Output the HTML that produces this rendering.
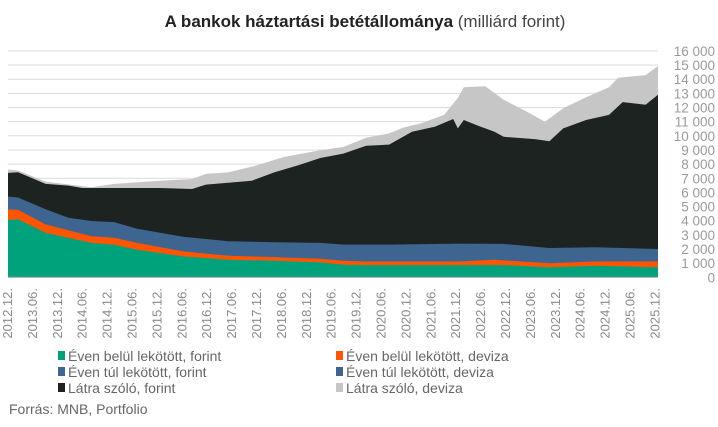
<!DOCTYPE html>
<html><head><meta charset="utf-8"><style>
body{margin:0;background:#fff;width:718px;height:422px;overflow:hidden;font-family:"Liberation Sans",sans-serif}
</style></head><body>
<svg id="s" width="718" height="422" xmlns="http://www.w3.org/2000/svg" font-family="Liberation Sans, sans-serif">
<text x="365" y="27" text-anchor="middle" font-size="17" fill="#222"><tspan font-weight="bold">A bankok háztartási betétállománya</tspan><tspan fill="#444"> (milliárd forint)</tspan></text>
<g id="grid"></g><g id="areas"></g><g id="lab"></g>
<g font-size="14" fill="#666">
<rect x="58" y="351" width="7" height="9" fill="#00a27c"/><text x="68" y="361">Éven belül lekötött, forint</text>
<rect x="336" y="351" width="7" height="9" fill="#ff5500"/><text x="346" y="361">Éven belül lekötött, deviza</text>
<rect x="58" y="367" width="7" height="9" fill="#3e6590"/><text x="68" y="377">Éven túl lekötött, forint</text>
<rect x="336" y="367" width="7" height="9" fill="#3e6590"/><text x="346" y="377">Éven túl lekötött, deviza</text>
<rect x="58" y="383" width="7" height="9" fill="#1c2320"/><text x="68" y="393">Látra szóló, forint</text>
<rect x="336" y="383" width="7" height="9" fill="#c6c6c6"/><text x="346" y="393">Látra szóló, deviza</text>
<text x="9" y="414">Forrás: MNB, Portfolio</text>
</g>
</svg>
<script>
const X0=8,X1=658,Y=v=>277.3-v*0.01415, ns="http://www.w3.org/2000/svg";
const g=document.getElementById('grid'),a=document.getElementById('areas'),l=document.getElementById('lab');
function el(p,t,at,txt){const e=document.createElementNS(ns,t);for(const k in at)e.setAttribute(k,at[k]);if(txt!=null)e.textContent=txt;p.appendChild(e);return e;}
for(let v=1000;v<=16000;v+=1000){el(g,'line',{x1:X0,x2:X1,y1:Y(v),y2:Y(v),stroke:'#dcdcdc','stroke-width':1});}
for(let v=0;v<=16000;v+=1000){el(l,'text',{x:715,y:Y(v)+5,'text-anchor':'end','font-size':13.5,fill:'#9a9a9a'},v==0?'0':(v/1000)+' 000');}
const S=[
[[18,4050],[40,4100],[100,3150],[200,2430],[250,2300],[300,1950],[400,1480],[500,1240],[600,1170],[700,1050],[750,880],[800,860],[1100,860],[1200,710],[1300,810],[1437,710]],
[[18,4800],[40,4760],[100,3740],[200,2900],[250,2790],[300,2430],[400,1830],[500,1520],[600,1430],[700,1310],[750,1170],[800,1120],[1000,1120],[1080,1240],[1200,1000],[1300,1120],[1437,1120]],
[[18,5710],[40,5640],[100,4810],[150,4210],[200,3980],[250,3900],[300,3430],[400,2860],[500,2550],[600,2480],[700,2430],[750,2310],[850,2310],[1000,2380],[1100,2360],[1200,2070],[1300,2120],[1437,2000]],
[[18,7380],[40,7430],[100,6600],[150,6480],[180,6310],[350,6310],[420,6240],[450,6550],[550,6830],[600,7430],[650,7900],[700,8430],[750,8740],[800,9290],[850,9380],[900,10290],[950,10640],[990,11190],[1000,10520],[1013,11120],[1050,10640],[1080,10290],[1100,9930],[1150,9810],[1170,9760],[1200,9620],[1230,10520],[1280,11120],[1330,11480],[1360,12380],[1410,12190],[1437,12900]],
[[18,7620],[40,7550],[100,6760],[160,6520],[200,6360],[250,6600],[350,6830],[420,6950],[450,7310],[500,7430],[560,7900],[620,8500],[700,8980],[750,9210],[800,9860],[850,10170],[880,10570],[920,10880],[970,11480],[1000,12670],[1013,13430],[1060,13500],[1100,12550],[1150,11720],[1190,11000],[1230,11950],[1280,12720],[1330,13430],[1350,14100],[1410,14290],[1437,14930]]];
const cols=['#00a27c','#ff5500','#3e6590','#1c2320','#c6c6c6'];
const xm=x=>X0+(x-18)*(X1-X0)/(1437-18);
for(let i=S.length-1;i>=0;i--){
 let d='M'+X0+','+Y(0);
 S[i].forEach(p=>d+=' L'+xm(p[0]).toFixed(1)+','+Y(p[1]).toFixed(1));
 d+=' L'+X1+','+Y(0)+' Z';
 el(a,'path',{d:d,fill:cols[i]});
}
el(a,'line',{x1:X0,x2:X1,y1:Y(0),y2:Y(0),stroke:'#999','stroke-width':1});
for(let i=0;i<27;i++){const yr=2012+Math.floor((i+1)/2),m=i%2==0?'12.':'06.';
 const x=7+i*24.9+5;
 el(l,'text',{x:0,y:0,transform:`translate(${x},288) rotate(-90)`,'text-anchor':'end','font-size':13,fill:'#8a8a8a'},yr+'.'+m);}
</script>
</body></html>
